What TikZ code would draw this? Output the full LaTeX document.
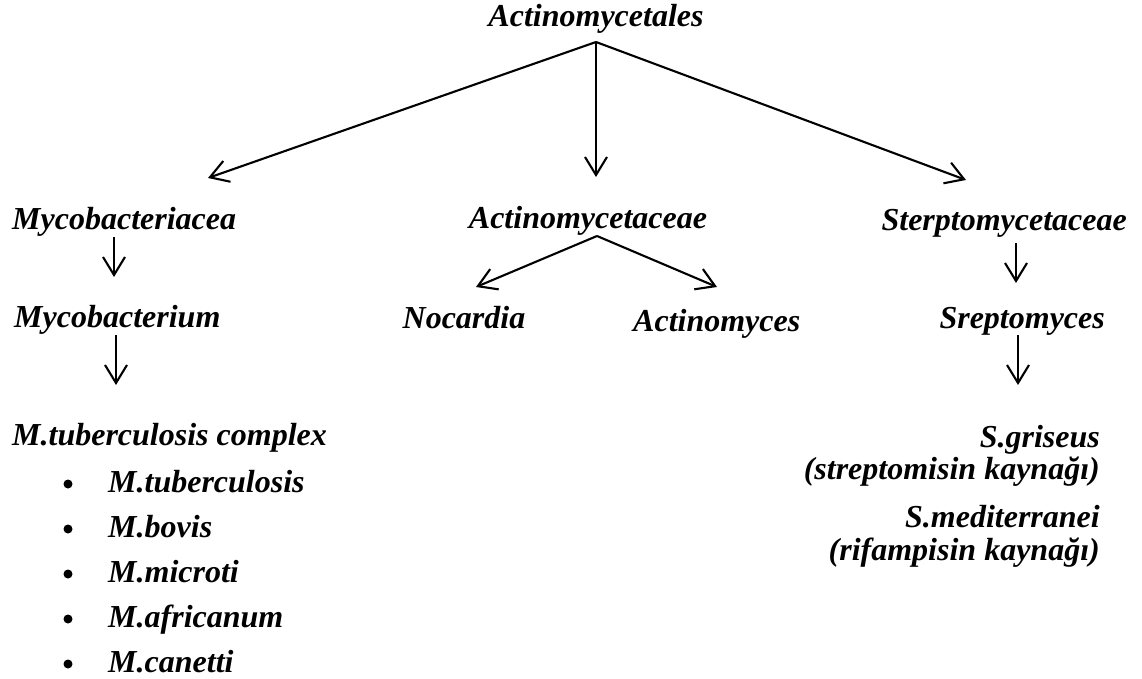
\documentclass[tikz,border=0pt]{standalone}
\usepackage{fontspec}
\setmainfont{Liberation Serif}
\usetikzlibrary{arrows.meta,calc}
\newcommand{\taxon}[1]{\textbf{\textit{#1}}}

\begin{document}
\begin{tikzpicture}[x=1pt, y=-1pt,
	every node/.style={inner sep=0pt, font=\fontsize{32}{38}\selectfont\bfseries\itshape},
	link/.style={line width=2.1pt, -{Straight Barb[length=18pt,width=22pt,line width=2.1pt]}},
	dot/.style={circle, fill, minimum size=9pt}]
	\useasboundingbox (0,0) rectangle (1142,679);

	% ordo and families
	\node[anchor=base] (ordo) at (596,27) {Actinomycetales};
	\node[anchor=base west] (myfam) at (12,229) {Mycobacteriacea};
	\node[anchor=base] (acfam) at (588,228) {Actinomycetaceae};
	\node[anchor=base east] (stfam) at (1127,230) {Sterptomycetaceae};

	% genera
	\node[anchor=base west] (mygen) at (14,327) {Mycobacterium};
	\node[anchor=base] (nocgen) at (464,328) {Nocardia};
	\node[anchor=base west] (acgen) at (633,331) {Actinomyces};
	\node[anchor=base east] (stgen) at (1105,328) {Sreptomyces};

	% species
	\node[anchor=base west] (mtbc) at (12,445) {M.tuberculosis complex};
	\foreach \sp [count=\i] in {M.tuberculosis, M.bovis, M.microti, M.africanum, M.canetti} {
		\node[anchor=base west] (sp\i) at (108,447+45*\i) {\sp};
		\node[dot] (bul\i) at (68,439+45*\i) {};
	}
	\node[anchor=base east] (sgri) at (1100,447) {S.griseus};
	\node[anchor=base east] (sgrinote) at (1100,479) {(streptomisin kaynağı)};
	\node[anchor=base east] (smed) at (1100,527) {S.mediterranei};
	\node[anchor=base east] (smednote) at (1100,560) {(rifampisin kaynağı)};

	% fork points and arrow tips
	\coordinate (ordofork) at (596,42);
	\coordinate (acfork) at (597,236);
	\coordinate (myfamtip) at (208,178);
	\coordinate (acfamtip) at (596,177);
	\coordinate (stfamtip) at (966,180);
	\coordinate (noctip) at (476,287);
	\coordinate (actip) at (717,287);

	\draw[link] (ordofork) -- (myfamtip);
	\draw[link] (ordofork) -- (acfamtip);
	\draw[link] (ordofork) -- (stfamtip);
	\draw[link] (acfork) -- (noctip);
	\draw[link] (acfork) -- (actip);
	\draw[link] (114,237) -- (114,277);
	\draw[link] (116,335) -- (116,385);
	\draw[link] (1016,243) -- (1016,283);
	\draw[link] (1018,335) -- (1018,385);
\end{tikzpicture}
\end{document}
